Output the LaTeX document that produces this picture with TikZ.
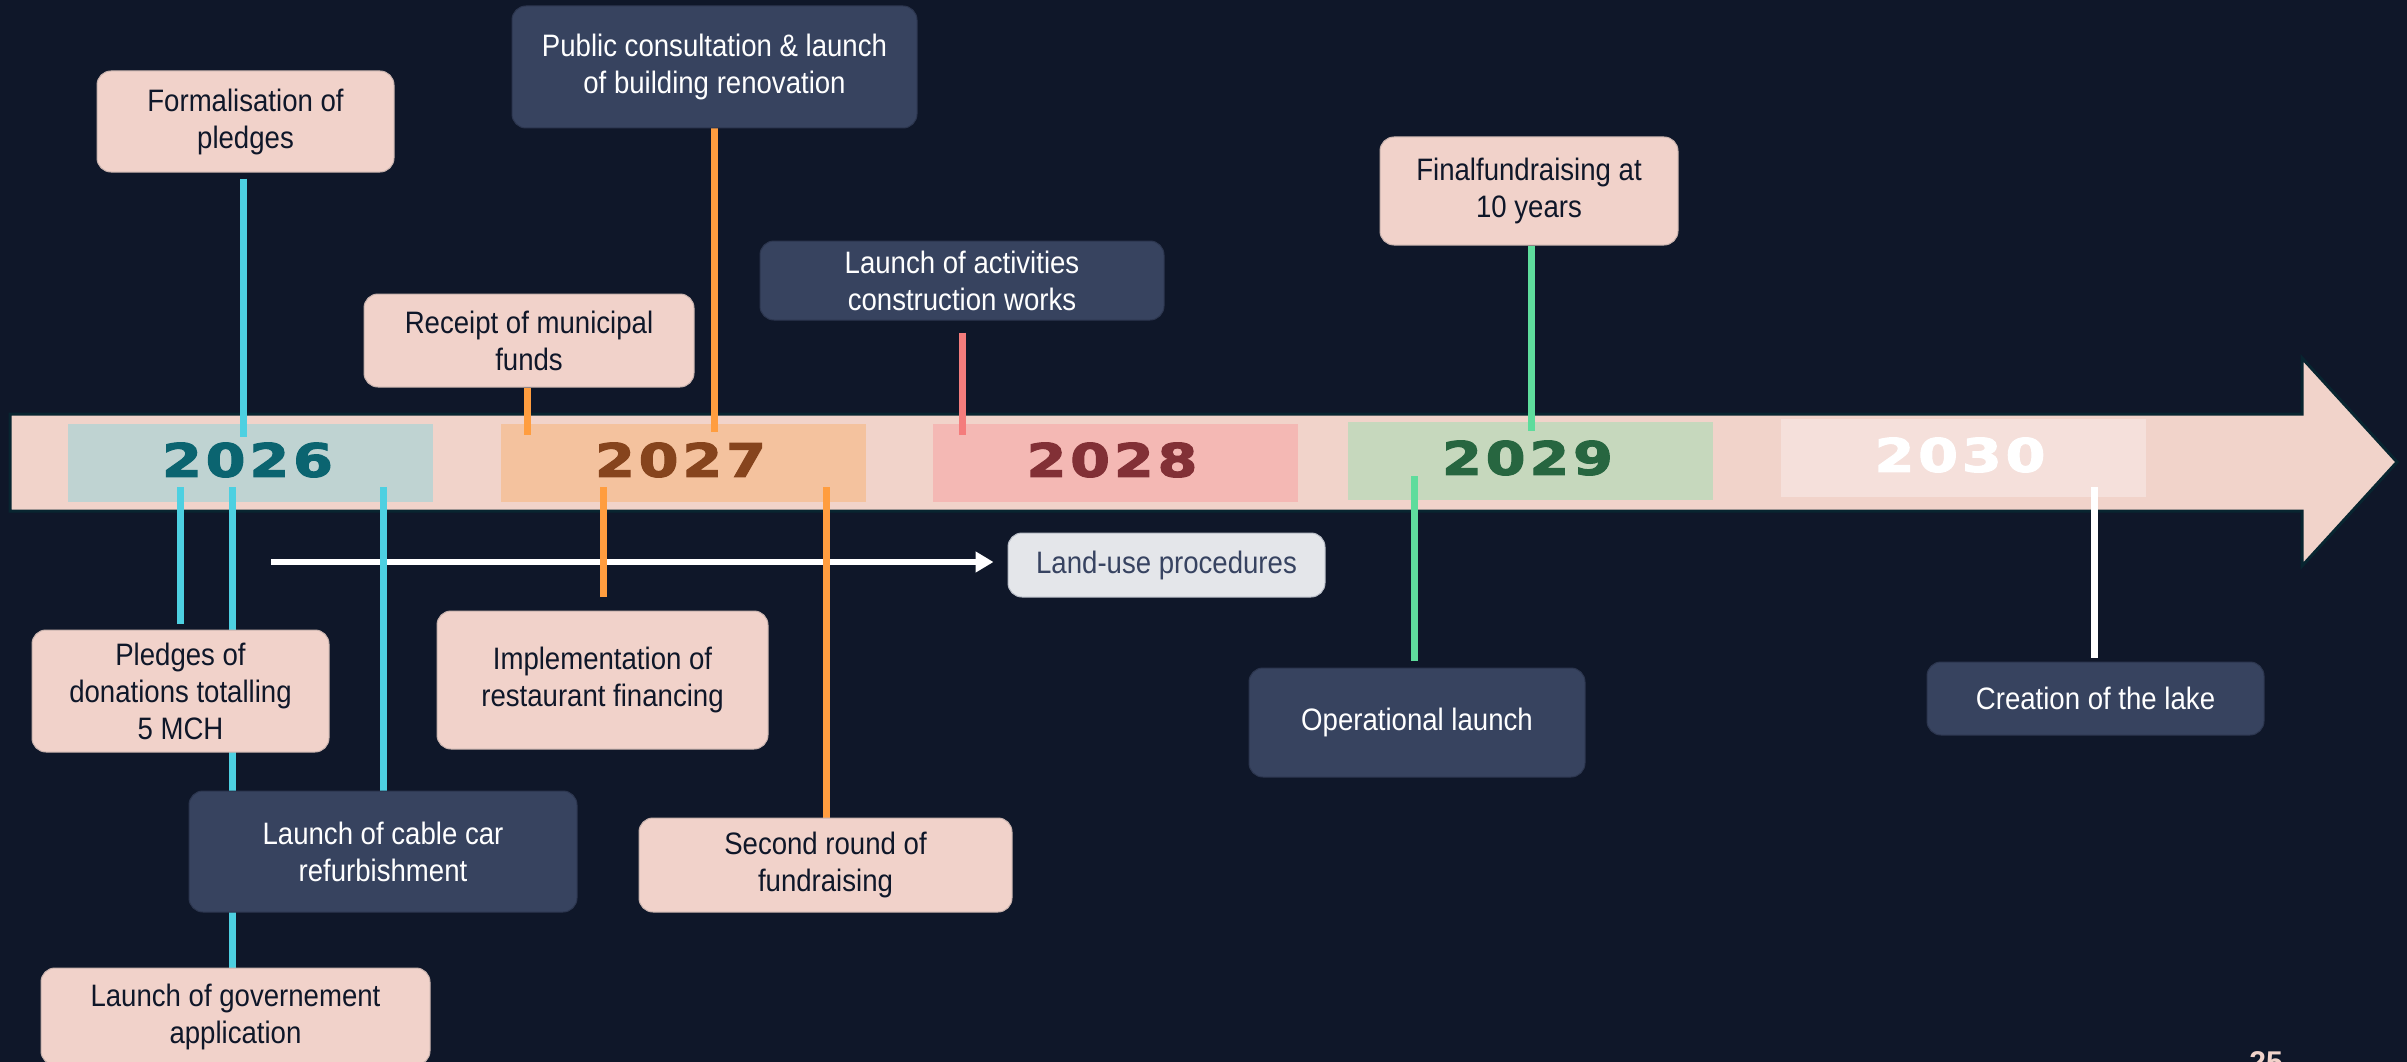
\documentclass[tikz,border=0pt]{standalone}
\usepackage{fontspec}
\setmainfont{Liberation Sans}
\newfontfamily\labfont{Liberation Sans}[FakeStretch=0.89]
\newfontfamily\yearfont{DejaVu Sans}[FakeStretch=1.25,FakeBold=2.5,LetterSpace=8]
\usetikzlibrary{calc,arrows.meta}
\pgfdeclarelayer{backdrop}
\pgfdeclarelayer{lines}
\pgfsetlayers{backdrop,lines,main}
\definecolor{bg}{HTML}{0F1729}
\definecolor{bandpink}{HTML}{F1D3CA}
\definecolor{bandedge}{HTML}{082530}
\definecolor{pinkfill}{HTML}{F1D2CA}
\definecolor{pinkedge}{HTML}{C9B3AE}
\definecolor{slatefill}{HTML}{37435F}
\definecolor{slateedge}{HTML}{2C364F}
\definecolor{ink}{HTML}{0F1729}
\definecolor{greyfill}{HTML}{E4E6EA}
\definecolor{greyedge}{HTML}{B8BDC6}
\definecolor{greyink}{HTML}{374361}
\definecolor{cyanl}{HTML}{4DD0E1}
\definecolor{orangel}{HTML}{FF9D3F}
\definecolor{salmonl}{HTML}{F47C7C}
\definecolor{greenl}{HTML}{5EDC9C}
\definecolor{yAfill}{HTML}{BFD3D2}\definecolor{yAtext}{HTML}{0B6470}
\definecolor{yBfill}{HTML}{F4C29E}\definecolor{yBtext}{HTML}{86441D}
\definecolor{yCfill}{HTML}{F4B8B4}\definecolor{yCtext}{HTML}{823036}
\definecolor{yDfill}{HTML}{C6D8BD}\definecolor{yDtext}{HTML}{276640}
\definecolor{yEfill}{HTML}{F5E0DB}\definecolor{yEtext}{HTML}{FFFFFF}
\begin{document}
\begin{tikzpicture}[x=1pt,y=-1pt,
  labelbox/.style={rounded corners=14pt, line width=1pt, align=center, inner sep=0pt,
    font=\labfont\fontsize{31}{37}\selectfont},
  pinkbox/.style={labelbox, fill=pinkfill, draw=pinkedge, text=ink},
  darkbox/.style={labelbox, fill=slatefill, draw=slateedge, text=white},
  greybox/.style={labelbox, fill=greyfill, draw=greyedge, text=greyink},
  yearbox/.style={rectangle, inner sep=0pt, minimum width=365pt, minimum height=78pt},
  yeartext/.style={inner sep=0pt, font=\yearfont\bfseries\fontsize{46}{50}\selectfont},
  conn/.style={line width=7pt, line cap=butt}
]
\begin{pgfonlayer}{backdrop}
% background
\fill[bg] (0,0) rectangle (2407,1062);
% timeline band
\filldraw[fill=bandpink, draw=bandedge, line width=3pt, line join=miter]
  (10,414) -- (2302,414) -- (2302,358) -- (2397,462) -- (2302,566) -- (2302,511) -- (10,511) -- cycle;
% year boxes
\node[yearbox, fill=yAfill] (y26) at (250.5,463) {};
\node[yearbox, fill=yBfill] (y27) at (683.5,463) {};
\node[yearbox, fill=yCfill] (y28) at (1115,463) {};
\node[yearbox, fill=yDfill] (y29) at (1530.5,461) {};
\node[yearbox, fill=yEfill] (y30) at (1963,458) {};
\end{pgfonlayer}
\useasboundingbox (0,0) rectangle (2407,1062);

% year labels
\node[yeartext, text=yAtext] at ($(y26.center)+(-3,-3)$) {2026};
\node[yeartext, text=yBtext] at ($(y27.center)+(-3,-3)$) {2027};
\node[yeartext, text=yCtext] at ($(y28.center)+(-3,-3)$) {2028};
\node[yeartext, text=yDtext] at ($(y29.center)+(-3,-3)$) {2029};
\node[yeartext, text=yEtext] at ($(y30.center)+(-3,-3)$) {2030};

% label boxes
\node[pinkbox, minimum width=297pt, minimum height=101pt] (formal) at (245.5,121.5) {Formalisation of\\pledges};
\node[darkbox, minimum width=405pt, minimum height=122pt] (public) at (714.5,67) {Public consultation \& launch\\of building renovation};
\node[pinkbox, minimum width=330pt, minimum height=93pt] (receipt) at (529,340.5) {Receipt of municipal\\funds};
\node[darkbox, minimum width=404pt, minimum height=79pt] (activ) at (962,280.5) {Launch of activities\\construction works};
\node[pinkbox, minimum width=298pt, minimum height=108pt] (final) at (1529,191) {Finalfundraising at\\10 years};
\node[greybox, minimum width=317pt, minimum height=64pt] (landuse) at (1166.5,565) {Land-use procedures};
\node[pinkbox, minimum width=297pt, minimum height=122pt] (pledges) at (180.5,691) {Pledges of\\donations totalling\\5 MCH};
\node[darkbox, minimum width=388pt, minimum height=121pt] (cable) at (383,851.5) {Launch of cable car\\refurbishment};
\node[pinkbox, minimum width=389pt, minimum height=97pt] (gov) at (235.5,1016.5) {Launch of governement\\application};
\node[pinkbox, minimum width=331pt, minimum height=138pt] (impl) at (602.5,680) {Implementation of\\restaurant financing};
\node[pinkbox, minimum width=373pt, minimum height=94pt] (second) at (825.5,865) {Second round of\\fundraising};
\node[darkbox, minimum width=336pt, minimum height=109pt] (oper) at (1417,722.5) {Operational launch};
\node[darkbox, minimum width=337pt, minimum height=73pt] (lake) at (2095.5,698.5) {Creation of the lake};

\begin{pgfonlayer}{lines}
% white arrow (under the vertical connectors)
\coordinate (wstart) at (271,562);
\draw[white, line width=6pt, -{Triangle[length=18pt,width=20pt]}] (wstart) -- ($(landuse.west)+(-14,-3)$);
% upper connectors
\draw[conn, cyanl]   ($(formal.south)+(-2.5,6)$) -- ($(y26.north)+(-7.5,13)$);
\draw[conn, orangel] ($(public.south)+(-0.5,0)$) -- ($(y27.north)+(30.5,8)$);
\draw[conn, orangel] ($(receipt.south)+(-2,0)$) -- ($(y27.north)+(-156.5,11)$);
\draw[conn, salmonl] ($(activ.south)+(0,12)$)    -- ($(y28.north)+(-153,11)$);
\draw[conn, greenl]  ($(final.south)+(2,0)$)     -- ($(y29.north)+(0.5,9)$);
% lower connectors
\draw[conn, cyanl]   ($(y26.south)+(-70.5,-15)$) -- ($(pledges.north)+(-0.5,-6)$);
\draw[conn, cyanl]   ($(y26.south)+(-18.5,-15)$) -- ($(gov.north)+(-3.5,0)$);
\draw[conn, cyanl]   ($(y26.south)+(132.5,-15)$) -- (cable.north);
\draw[conn, orangel] ($(y27.south)+(-80.5,-15)$) -- ($(impl.north)+(0.5,-14)$);
\draw[conn, orangel] ($(y27.south)+(142.5,-15)$) -- ($(second.north)+(0.5,0)$);
\draw[conn, greenl]  ($(y29.south)+(-116.5,-24)$) -- ($(oper.north)+(-3,-7)$);
\draw[conn, white]   ($(y30.south)+(131,-10)$)   -- ($(lake.north)+(-1.5,-4)$);
\end{pgfonlayer}

% page number (cut by the page edge, as in the reference)
\node[anchor=base, inner sep=0pt, text=bandpink, font=\bfseries\fontsize{30}{30}\selectfont] (pnum) at (2266,1072) {25};
\end{tikzpicture}
\end{document}
